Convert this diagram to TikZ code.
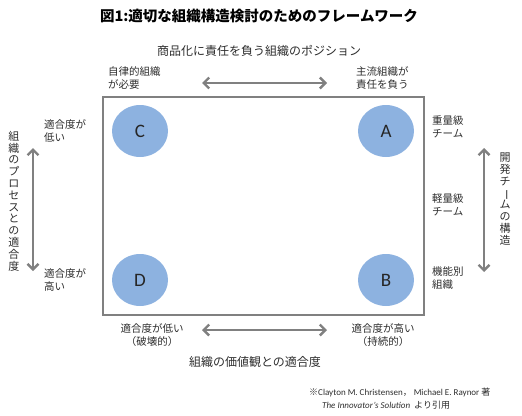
\documentclass[tikz,border=0pt]{standalone}
\usepackage{fontspec}
\setmainfont{Noto Sans CJK JP}
\newfontfamily\latinfont{Carlito}
\usetikzlibrary{arrows.meta,shapes.geometric}
\definecolor{circfill}{RGB}{141,178,224}
\definecolor{txtgray}{RGB}{45,45,45}
\definecolor{axgray}{RGB}{128,128,128}

\begin{document}
\begin{tikzpicture}[x=1pt,y=-1pt,
  every node/.style={text=txtgray,inner sep=0pt},
  lbl/.style={font=\fontsize{10.5}{13.5}\selectfont,align=left,anchor=west},
  clbl/.style={font=\fontsize{10.5}{13.5}\selectfont,align=center},
  axtitle/.style={font=\fontsize{12}{14}\selectfont},
  vtitle/.style={font=\fontsize{11}{11.8}\selectfont,align=center},
  dblarrow/.style={axgray,line width=2.4pt,{Straight Barb[length=5.5pt,width=11pt]}-{Straight Barb[length=5.5pt,width=11pt]}},
  posnode/.style={ellipse,fill=circfill,minimum width=56pt,minimum height=52pt,
    text=black!85,font=\latinfont\fontsize{19}{19}\selectfont}]
  \useasboundingbox (0,0) rectangle (522,415);
  \pgfmathsetmacro {\xl}{103}   %frame left
  \pgfmathsetmacro {\xr}{424}   %frame right
  \pgfmathsetmacro {\yt}{97}    %frame top
  \pgfmathsetmacro {\yb}{315}   %frame bottom

  \node[font=\bfseries\fontsize{14.5}{16}\selectfont,text=black] (title) at (259,16) {図1:適切な組織構造検討のためのフレームワーク};

  %Frame and positions
  \draw[axgray,line width=1.3pt] (\xl,\yt) rectangle (\xr,\yb) ;
  \node[posnode] (posC) at (140,131) {C};
  \node[posnode] (posA) at (386,131) {A};
  \node[posnode] (posD) at (140,280) {D};
  \node[posnode] (posB) at (386,280) {B};

  %Top axis
  \node[axtitle] (toptitle) at (259,51) {商品化に責任を負う組織のポジション};
  \node[lbl] (needown) at (108,78) {自律的組織\\が必要};
  \node[lbl] (mainresp) at (356,78) {主流組織が\\責任を負う};
  \coordinate (topL) at (202,83) ;
  \coordinate (topR) at (327,83) ;
  \draw[dblarrow] (topL) -- (topR) ;

  %Left axis
  \node[lbl] (procLow) at (44,131) {適合度が\\低い};
  \node[lbl] (procHigh) at (44,280) {適合度が\\高い};
  \coordinate (leftT) at (33,148) ;
  \coordinate (leftB) at (33,271) ;
  \draw[dblarrow] (leftT) -- (leftB) ;
  \node[vtitle] (lefttitle) at (14,201) {組\\織\\の\\プ\\ロ\\セ\\ス\\と\\の\\適\\合\\度};

  %Right axis
  \node[lbl] (heavy) at (432,127) {重量級\\チーム};
  \node[lbl] (light) at (432,205) {軽量級\\チーム};
  \node[lbl] (func) at (432,278) {機能別\\組織};
  \coordinate (rightT) at (484,148) ;
  \coordinate (rightB) at (484,272) ;
  \draw[dblarrow] (rightT) -- (rightB) ;
  \node[vtitle] (righttitle) at (505,199) {開\\発\\チ\\\rotatebox[origin=c]{-90}{ー}\\ム\\の\\構\\造};

  %Bottom axis
  \node[clbl] (valLow) at (152,335) {適合度が低い\\（破壊的）};
  \node[clbl] (valHigh) at (383,335) {適合度が高い\\（持続的）};
  \coordinate (botL) at (202,330) ;
  \coordinate (botR) at (327,330) ;
  \draw[dblarrow] (botL) -- (botR) ;
  \node[axtitle] (bottitle) at (255,362) {組織の価値観との適合度};

  %Source note
  \node[anchor=west,font=\fontsize{9}{11}\selectfont] (note1) at (309,392) {※{\latinfont Clayton M. Christensen}， {\latinfont Michael E. Raynor} 著};
  \node[anchor=west,font=\fontsize{9}{11}\selectfont] (note2) at (322,405) {{\latinfont\itshape The Innovator’s Solution}\ \ より引用};
\end{tikzpicture}
\end{document}
